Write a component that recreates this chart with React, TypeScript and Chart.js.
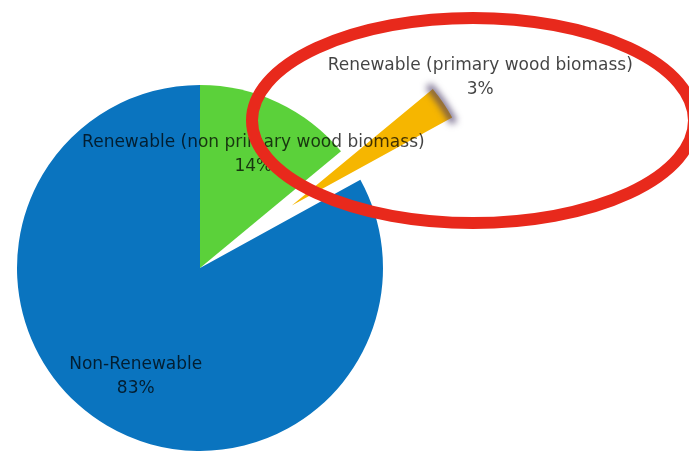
import React, { useEffect, useRef } from "react";
import { Chart, registerables } from "chart.js";

Chart.register(...registerables);

// ---- data ----
const categories = [
  "Renewable (non primary wood biomass)",
  "Renewable (primary wood biomass)",
  "Non-Renewable",
];
const shares = [14, 3, 83];
const sliceColors = ["#5bd13a", "#f6b600", "#0a74bf"];
const explodeDistance = [0, 111, 0];
const labelRadius = [0.685, 1.245, 0.69];

export default function App() {
  const ref = useRef<HTMLCanvasElement>(null);

  useEffect(() => {
    if (!ref.current) return;

    const explodePlugin = {
      id: "explodeSlice",
      afterDatasetsUpdate(chart: any) {
        const meta = chart.getDatasetMeta(0);
        meta.data.forEach((arc: any, i: number) => {
          const d = explodeDistance[i];
          if (!d) return;
          const mid = (arc.startAngle + arc.endAngle) / 2;
          arc.x += Math.cos(mid) * d;
          arc.y += Math.sin(mid) * d;
        });
      },
      afterDraw(chart: any) {
        const ctx = chart.ctx as CanvasRenderingContext2D;
        const meta = chart.getDatasetMeta(0);

        // dark end cap on the exploded slice
        const o: any = meta.data[1];
        ctx.save();
        ctx.filter = "blur(3.5px)";
        ctx.strokeStyle = "rgba(70,55,100,0.8)";
        ctx.lineWidth = 7;
        ctx.beginPath();
        ctx.arc(o.x, o.y, o.outerRadius - 1, o.startAngle - 0.03, o.endAngle + 0.03);
        ctx.stroke();
        ctx.restore();

        // labels
        ctx.save();
        ctx.font = '17px "DejaVu Sans"';
        ctx.textAlign = "center";
        ctx.textBaseline = "middle";
        ctx.fillStyle = "rgba(0,0,0,0.74)";
        meta.data.forEach((arc: any, i: number) => {
          const mid = (arc.startAngle + arc.endAngle) / 2;
          const r = arc.outerRadius * labelRadius[i];
          const x = arc.x + Math.cos(mid) * r;
          const y = arc.y + Math.sin(mid) * r;
          ctx.fillText(categories[i], x, y - 12);
          ctx.fillText(shares[i] + "%", x, y + 12);
        });
        ctx.restore();

        // red highlight ellipse
        ctx.save();
        ctx.filter = "blur(0.7px)";
        ctx.strokeStyle = "#e8291c";
        ctx.lineWidth = 12;
        ctx.beginPath();
        ctx.ellipse(473, 120.5, 221, 102.5, 0, 0, Math.PI * 2);
        ctx.stroke();
        ctx.restore();
      },
    };

    const chart = new Chart(ref.current, {
      type: "pie",
      data: {
        labels: categories,
        datasets: [
          {
            data: shares,
            backgroundColor: sliceColors,
            borderWidth: 0,
          },
        ],
      },
      options: {
        responsive: false,
        animation: false,
        events: [],
        radius: 183,
        clip: false,
        layout: { padding: { left: 0, right: 289, top: 84, bottom: 0 } },
        plugins: {
          legend: { display: false },
          tooltip: { enabled: false },
        },
      } as any,
      plugins: [explodePlugin],
    });

    return () => chart.destroy();
  }, []);

  return (
    <div
      style={{
        position: "fixed",
        left: 0,
        top: 0,
        width: 689,
        height: 452,
        background: "#ffffff",
      }}
    >
      <canvas
        ref={ref}
        width={689}
        height={452}
        style={{ display: "block", width: 689, height: 452, filter: "blur(0.4px)" }}
      />
    </div>
  );
}
